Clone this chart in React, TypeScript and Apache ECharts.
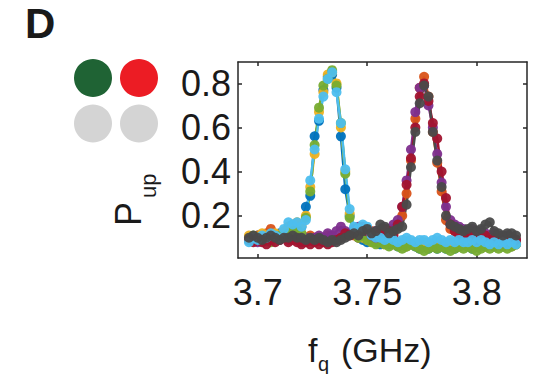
import React, { useEffect, useRef } from "react";
import * as echarts from "echarts";

const freqs = [
  3.696, 3.698, 3.700, 3.702, 3.704, 3.706, 3.708, 3.710, 3.712, 3.714,
  3.716, 3.718, 3.720, 3.722, 3.724, 3.726, 3.728, 3.730, 3.732, 3.734,
  3.736, 3.738, 3.740, 3.742, 3.744, 3.746, 3.748, 3.750, 3.752, 3.754,
  3.756, 3.758, 3.760, 3.762, 3.764, 3.766, 3.768, 3.770, 3.772, 3.774,
  3.776, 3.778, 3.780, 3.782, 3.784, 3.786, 3.788, 3.790, 3.792, 3.794,
  3.796, 3.798, 3.800, 3.802, 3.804, 3.806, 3.808, 3.810, 3.812, 3.814,
  3.816, 3.818,
];

const blue = [
  0.10, 0.09, 0.11, 0.10, 0.09, 0.11, 0.10, 0.12, 0.10, 0.11,
  0.12, 0.13, 0.15, 0.24, 0.29, 0.56, 0.63, 0.77, 0.83, 0.84,
  0.78, 0.56, 0.32, 0.20, 0.12, 0.10, 0.09, 0.08, 0.09, 0.08,
  0.07, 0.08, 0.07, 0.08, 0.06, 0.07, 0.06, 0.07, 0.06, 0.05,
  0.06, 0.05, 0.06, 0.05, 0.06, 0.05, 0.06, 0.05, 0.06, 0.07,
  0.06, 0.05, 0.06, 0.07, 0.06, 0.07, 0.06, 0.07, 0.06, 0.07,
  0.06, 0.07,
];
const yellow = [
  0.11, 0.10, 0.09, 0.12, 0.11, 0.10, 0.12, 0.11, 0.13, 0.15,
  0.16, 0.17, 0.16, 0.20, 0.33, 0.48, 0.67, 0.76, 0.84, 0.85,
  0.80, 0.60, 0.40, 0.21, 0.14, 0.11, 0.10, 0.09, 0.08, 0.09,
  0.08, 0.07, 0.08, 0.07, 0.08, 0.07, 0.06, 0.07, 0.08, 0.07,
  0.08, 0.07, 0.06, 0.07, 0.06, 0.07, 0.08, 0.07, 0.06, 0.07,
  0.08, 0.07, 0.08, 0.07, 0.06, 0.07, 0.08, 0.07, 0.08, 0.07,
  0.06, 0.07,
];
const green = [
  0.09, 0.11, 0.10, 0.09, 0.10, 0.08, 0.10, 0.11, 0.10, 0.12,
  0.13, 0.14, 0.12, 0.19, 0.31, 0.52, 0.69, 0.79, 0.82, 0.86,
  0.79, 0.62, 0.39, 0.19, 0.12, 0.10, 0.11, 0.09, 0.08, 0.07,
  0.08, 0.07, 0.06, 0.07, 0.06, 0.05, 0.06, 0.07, 0.06, 0.05,
  0.04, 0.05, 0.06, 0.05, 0.06, 0.05, 0.04, 0.05, 0.06, 0.05,
  0.06, 0.05, 0.04, 0.05, 0.06, 0.05, 0.06, 0.05, 0.06, 0.05,
  0.06, 0.07,
];
const lightBlue = [
  0.08, 0.10, 0.09, 0.11, 0.10, 0.12, 0.11, 0.10, 0.14, 0.17,
  0.16, 0.17, 0.15, 0.18, 0.36, 0.50, 0.64, 0.74, 0.82, 0.85,
  0.76, 0.62, 0.41, 0.23, 0.15, 0.14, 0.16, 0.15, 0.11, 0.10,
  0.10, 0.09, 0.10, 0.09, 0.08, 0.09, 0.10, 0.09, 0.08, 0.09,
  0.09, 0.08, 0.09, 0.10, 0.09, 0.08, 0.09, 0.08, 0.09, 0.08,
  0.08, 0.09, 0.08, 0.09, 0.08, 0.07, 0.08, 0.07, 0.08, 0.07,
  0.08, 0.07,
];
const orange = [
  0.10, 0.09, 0.11, 0.10, 0.12, 0.14, 0.11, 0.10, 0.12, 0.11,
  0.10, 0.11, 0.09, 0.10, 0.11, 0.10, 0.09, 0.10, 0.11, 0.10,
  0.09, 0.10, 0.11, 0.12, 0.11, 0.10, 0.12, 0.11, 0.13, 0.12,
  0.11, 0.12, 0.11, 0.12, 0.15, 0.20, 0.30, 0.45, 0.64, 0.78,
  0.83, 0.74, 0.58, 0.44, 0.31, 0.18, 0.14, 0.13, 0.12, 0.11,
  0.12, 0.11, 0.10, 0.11, 0.10, 0.11, 0.10, 0.09, 0.10, 0.09,
  0.10, 0.09,
];
const purple = [
  0.09, 0.10, 0.08, 0.10, 0.09, 0.11, 0.10, 0.09, 0.10, 0.09,
  0.10, 0.09, 0.08, 0.10, 0.09, 0.10, 0.11, 0.10, 0.12, 0.11,
  0.13, 0.15, 0.13, 0.12, 0.14, 0.15, 0.13, 0.12, 0.11, 0.13,
  0.12, 0.11, 0.14, 0.16, 0.18, 0.24, 0.36, 0.50, 0.67, 0.78,
  0.79, 0.70, 0.60, 0.48, 0.35, 0.24, 0.18, 0.16, 0.15, 0.14,
  0.13, 0.14, 0.12, 0.13, 0.12, 0.11, 0.12, 0.11, 0.10, 0.11,
  0.10, 0.09,
];
const darkRed = [
  0.09, 0.08, 0.09, 0.08, 0.07, 0.09, 0.08, 0.09, 0.10, 0.08,
  0.09, 0.08, 0.07, 0.08, 0.07, 0.08, 0.07, 0.08, 0.07, 0.08,
  0.09, 0.10, 0.12, 0.11, 0.12, 0.14, 0.15, 0.13, 0.11, 0.10,
  0.12, 0.14, 0.13, 0.11, 0.16, 0.24, 0.34, 0.46, 0.60, 0.74,
  0.80, 0.72, 0.62, 0.55, 0.40, 0.28, 0.16, 0.13, 0.11, 0.12,
  0.10, 0.11, 0.09, 0.10, 0.11, 0.09, 0.10, 0.09, 0.08, 0.09,
  0.10, 0.09,
];
const gray = [
  0.10, 0.11, 0.10, 0.09, 0.10, 0.11, 0.10, 0.09, 0.10, 0.10,
  0.11, 0.10, 0.10, 0.09, 0.10, 0.09, 0.10, 0.09, 0.08, 0.09,
  0.08, 0.09, 0.10, 0.11, 0.12, 0.11, 0.13, 0.14, 0.12, 0.13,
  0.16, 0.15, 0.12, 0.13, 0.14, 0.15, 0.25, 0.42, 0.58, 0.71,
  0.79, 0.74, 0.58, 0.45, 0.33, 0.20, 0.16, 0.15, 0.14, 0.13,
  0.14, 0.15, 0.13, 0.14, 0.16, 0.17, 0.13, 0.12, 0.11, 0.12,
  0.12, 0.11,
];

const seriesDefs: [string, number[], string][] = [
  ["blue", blue, "#0072BD"],
  ["orange", orange, "#D95319"],
  ["yellow", yellow, "#EDB120"],
  ["purple", purple, "#7E2F8E"],
  ["green", green, "#77AC30"],
  ["darkRed", darkRed, "#A2142F"],
  ["lightBlue", lightBlue, "#4DBEEE"],
  ["gray", gray, "#4A4A4A"],
];

const xTicks = [3.7, 3.75, 3.8];
const yTicks = [0.2, 0.4, 0.6, 0.8];

const FONT = "'Liberation Sans', Arial, Helvetica, sans-serif";

export default function App() {
  const ref = useRef<HTMLDivElement>(null);
  useEffect(() => {
    if (!ref.current) return;
    const chart = echarts.init(ref.current, null, { renderer: "svg" });
    const axisLineStyle = { color: "#262626", width: 1.5 };
    const xMin = 3.691, xMax = 3.823, yMin = 0.008, yMax = 0.897;
    chart.setOption({
      animation: false,
      backgroundColor: "#ffffff",
      grid: { left: 238, top: 62, right: 15, bottom: 116, outerBoundsMode: "none" },
      xAxis: [
        {
          type: "value", min: xMin, max: xMax, position: "bottom",
          axisLine: { show: true, lineStyle: axisLineStyle },
          axisTick: { show: true, inside: true, length: 4, lineStyle: axisLineStyle, customValues: xTicks },
          axisLabel: { show: true, customValues: xTicks, margin: 16, fontSize: 36, color: "#1a1a1a", fontFamily: FONT,
            formatter: (v: number) => String(v) },
          splitLine: { show: false },
        },
        {
          type: "value", min: xMin, max: xMax, position: "top",
          axisLine: { show: true, lineStyle: axisLineStyle },
          axisTick: { show: true, inside: true, length: 4, lineStyle: axisLineStyle, customValues: xTicks },
          axisLabel: { show: false },
          splitLine: { show: false },
        },
      ],
      yAxis: [
        {
          type: "value", min: yMin, max: yMax, position: "left",
          axisLine: { show: true, lineStyle: axisLineStyle },
          axisTick: { show: true, inside: true, length: 4, lineStyle: axisLineStyle, customValues: yTicks },
          axisLabel: { show: true, customValues: yTicks, margin: 7, fontSize: 36, color: "#1a1a1a", fontFamily: FONT,
            formatter: (v: number) => v.toFixed(1) },
          splitLine: { show: false },
        },
        {
          type: "value", min: yMin, max: yMax, position: "right",
          axisLine: { show: true, lineStyle: axisLineStyle },
          axisTick: { show: true, inside: true, length: 4, lineStyle: axisLineStyle, customValues: yTicks },
          axisLabel: { show: false },
          splitLine: { show: false },
        },
      ],
      series: seriesDefs.map(([name, vals, color]) => ({
        name,
        type: "line",
        xAxisIndex: 0,
        yAxisIndex: 0,
        data: freqs.map((f, i) => [f, vals[i]]),
        symbol: "circle",
        symbolSize: 10,
        showSymbol: true,
        itemStyle: { color, opacity: 0.95 },
        lineStyle: { color, width: 2.5 },
        silent: true,
      })),
      graphic: [
        { type: "text", x: 25, y: 23.4, style: { text: "D", font: `bold 42px ${FONT}`, fill: "#1a1a1a", textAlign: "left", textVerticalAlign: "middle" } },
        { type: "circle", shape: { cx: 93, cy: 78, r: 19 }, style: { fill: "#1F6334" } },
        { type: "circle", shape: { cx: 139, cy: 78, r: 19 }, style: { fill: "#EC1C24" } },
        { type: "circle", shape: { cx: 93, cy: 123.5, r: 19 }, style: { fill: "#D4D4D4" } },
        { type: "circle", shape: { cx: 139, cy: 123.5, r: 19 }, style: { fill: "#D4D4D4" } },
        { type: "text", x: 128.3, y: 226, rotation: Math.PI / 2, style: { text: "P", font: `36px ${FONT}`, fill: "#1a1a1a", textAlign: "left", textVerticalAlign: "middle" } },
        { type: "text", x: 148.8, y: 198, rotation: Math.PI / 2, style: { text: "up", font: `22px ${FONT}`, fill: "#1a1a1a", textAlign: "left", textVerticalAlign: "middle" } },
        { type: "text", x: 308, y: 349.9, style: { text: "f", font: `34px ${FONT}`, fill: "#1a1a1a", textAlign: "left", textVerticalAlign: "middle" } },
        { type: "text", x: 318, y: 363.5, style: { text: "q", font: `20px ${FONT}`, fill: "#1a1a1a", textAlign: "left", textVerticalAlign: "middle" } },
        { type: "text", x: 341, y: 349.9, style: { text: "(GHz)", font: `34px ${FONT}`, fill: "#1a1a1a", textAlign: "left", textVerticalAlign: "middle" } },
      ],
    });
    return () => chart.dispose();
  }, []);
  return (
    <div
      ref={ref}
      style={{ position: "fixed", left: 0, top: 0, width: 542, height: 374, background: "#fff" }}
    />
  );
}
